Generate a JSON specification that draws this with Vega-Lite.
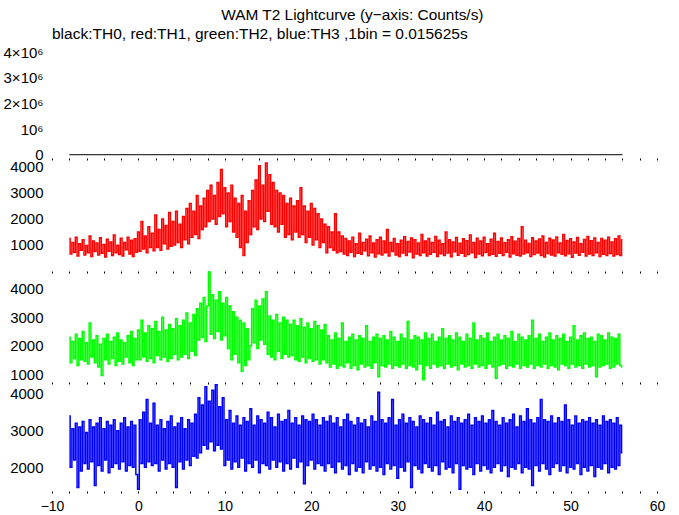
{
"$schema":"https://vega.github.io/schema/vega-lite/v6.json",
"background":"white",
"padding":{"left":0,"top":8,"right":5,"bottom":0},
"title":{"text":"WAM T2 Lightcurve (y−axis: Counts/s)","anchor":"middle","dx":20,"fontSize":15.4,"fontWeight":"normal","font":"Liberation Sans","color":"black","offset":3},
"spacing":0,
"bounds":"flush",
"datasets":{
"th0":[{"t":-8,"c":0},{"t":-4,"c":0},{"t":0,"c":0},{"t":4,"c":0},{"t":8,"c":0},{"t":12,"c":0},{"t":16,"c":0},{"t":20,"c":0},{"t":24,"c":0},{"t":28,"c":0},{"t":32,"c":0},{"t":36,"c":0},{"t":40,"c":0},{"t":44,"c":0},{"t":48,"c":0},{"t":52,"c":0},{"t":56,"c":0}],
"lc":[
{"t":-8,"r":1250,"g":2300,"b":3400},{"t":-7.8,"r":650,"g":1400,"b":2000},{"t":-7.6,"r":1100,"g":2150,"b":3050},{"t":-7.4,"r":720,"g":1550,"b":2200},{"t":-7.2,"r":1300,"g":2400,"b":3200},
{"t":-7,"r":580,"g":1300,"b":1450},{"t":-6.8,"r":1050,"g":2250,"b":3100},{"t":-6.6,"r":800,"g":1500,"b":1900},{"t":-6.4,"r":1200,"g":2500,"b":3250},{"t":-6.2,"r":620,"g":1450,"b":2100},
{"t":-6,"r":980,"g":2100,"b":2950},{"t":-5.8,"r":700,"g":1350,"b":1950},{"t":-5.6,"r":1350,"g":2800,"b":3300},{"t":-5.4,"r":560,"g":1600,"b":2150},{"t":-5.2,"r":1150,"g":2200,"b":3100},
{"t":-5,"r":750,"g":1400,"b":1500},{"t":-4.8,"r":1080,"g":2350,"b":3200},{"t":-4.6,"r":620,"g":1250,"b":2050},{"t":-4.4,"r":1280,"g":2050,"b":3350},{"t":-4.2,"r":680,"g":950,"b":1900},
{"t":-4,"r":1020,"g":2250,"b":3050},{"t":-3.8,"r":540,"g":1500,"b":2200},{"t":-3.6,"r":1220,"g":2400,"b":3250},{"t":-3.4,"r":760,"g":1350,"b":1850},{"t":-3.2,"r":1120,"g":2150,"b":3150},
{"t":-3,"r":600,"g":1550,"b":2000},{"t":-2.8,"r":1380,"g":2300,"b":3300},{"t":-2.6,"r":700,"g":1300,"b":2100},{"t":-2.4,"r":990,"g":2450,"b":3000},{"t":-2.2,"r":630,"g":1450,"b":1950},
{"t":-2,"r":1260,"g":2200,"b":3200},{"t":-1.8,"r":580,"g":1350,"b":2150},{"t":-1.6,"r":1100,"g":2100,"b":3350},{"t":-1.4,"r":820,"g":1600,"b":1900},{"t":-1.2,"r":1300,"g":2350,"b":3100},
{"t":-1,"r":650,"g":1400,"b":2050},{"t":-0.8,"r":1180,"g":2500,"b":3250},{"t":-0.6,"r":560,"g":1300,"b":2000},{"t":-0.4,"r":1240,"g":2250,"b":3150},{"t":-0.2,"r":720,"g":1500,"b":1800},
{"t":0,"r":1500,"g":2550,"b":1400},{"t":0.2,"r":760,"g":1500,"b":3300},{"t":0.4,"r":1900,"g":2900,"b":2100},{"t":0.6,"r":850,"g":1600,"b":3500},{"t":0.8,"r":1350,"g":2450,"b":2000},
{"t":1,"r":700,"g":1450,"b":3850},{"t":1.2,"r":1700,"g":2700,"b":2150},{"t":1.4,"r":900,"g":1550,"b":3200},{"t":1.6,"r":1450,"g":2600,"b":2050},{"t":1.8,"r":780,"g":1400,"b":3750},
{"t":2,"r":2150,"g":2850,"b":2100},{"t":2.2,"r":900,"g":1650,"b":3150},{"t":2.4,"r":1600,"g":2500,"b":1900},{"t":2.6,"r":800,"g":1500,"b":3300},{"t":2.8,"r":2000,"g":3000,"b":2200},
{"t":3,"r":1050,"g":1600,"b":3050},{"t":3.2,"r":1750,"g":2550,"b":1950},{"t":3.4,"r":850,"g":1450,"b":3250},{"t":3.6,"r":2250,"g":2750,"b":2100},{"t":3.8,"r":950,"g":1550,"b":3400},
{"t":4,"r":1900,"g":2600,"b":2000},{"t":4.2,"r":1000,"g":1700,"b":3100},{"t":4.4,"r":2300,"g":2950,"b":1450},{"t":4.6,"r":1100,"g":1500,"b":3200},{"t":4.8,"r":1800,"g":2700,"b":2150},
{"t":5,"r":900,"g":1600,"b":3350},{"t":5.2,"r":2100,"g":2900,"b":1950},{"t":5.4,"r":1200,"g":1700,"b":3050},{"t":5.6,"r":2400,"g":3150,"b":2200},{"t":5.8,"r":1050,"g":1550,"b":3300},
{"t":6,"r":2600,"g":2800,"b":2050},{"t":6.2,"r":1300,"g":1800,"b":3200},{"t":6.4,"r":2300,"g":3100,"b":2300},{"t":6.6,"r":1400,"g":1650,"b":3450},{"t":6.8,"r":2900,"g":3300,"b":2250},
{"t":7,"r":1250,"g":2200,"b":3900},{"t":7.2,"r":2500,"g":3500,"b":2400},{"t":7.4,"r":1600,"g":2300,"b":3700},{"t":7.6,"r":2800,"g":3700,"b":2600},{"t":7.8,"r":1700,"g":2150,"b":4200},
{"t":8,"r":3100,"g":3400,"b":2500},{"t":8.2,"r":1900,"g":4600,"b":3800},{"t":8.4,"r":3300,"g":2400,"b":2700},{"t":8.6,"r":2000,"g":3800,"b":4100},{"t":8.8,"r":2900,"g":2250,"b":2450},
{"t":9,"r":1800,"g":3600,"b":4250},{"t":9.2,"r":3400,"g":2500,"b":2600},{"t":9.4,"r":2100,"g":3900,"b":3650},{"t":9.6,"r":3900,"g":2200,"b":2500},{"t":9.8,"r":2200,"g":3500,"b":3900},
{"t":10,"r":3200,"g":2350,"b":2050},{"t":10.2,"r":1700,"g":3700,"b":3300},{"t":10.4,"r":3000,"g":1900,"b":2200},{"t":10.6,"r":1900,"g":3400,"b":3550},{"t":10.8,"r":3300,"g":1500,"b":1950},
{"t":11,"r":1500,"g":3200,"b":3200},{"t":11.2,"r":2800,"g":1700,"b":2150},{"t":11.4,"r":1300,"g":3000,"b":3400},{"t":11.6,"r":2600,"g":1400,"b":2000},{"t":11.8,"r":900,"g":2900,"b":3150},
{"t":12,"r":2900,"g":1100,"b":2250},{"t":12.2,"r":600,"g":2800,"b":3350},{"t":12.4,"r":2300,"g":1300,"b":1900},{"t":12.6,"r":1100,"g":2600,"b":3250},{"t":12.8,"r":2700,"g":1500,"b":2100},
{"t":13,"r":1400,"g":2000,"b":3600},{"t":13.2,"r":3100,"g":3300,"b":2000},{"t":13.4,"r":1700,"g":2100,"b":3150},{"t":13.6,"r":3500,"g":3600,"b":2200},{"t":13.8,"r":1600,"g":1900,"b":3400},
{"t":14,"r":4050,"g":3400,"b":1850},{"t":14.2,"r":2000,"g":2200,"b":3300},{"t":14.4,"r":3300,"g":3650,"b":2100},{"t":14.6,"r":1900,"g":2050,"b":3200},{"t":14.8,"r":4150,"g":3900,"b":2050},
{"t":15,"r":2300,"g":1700,"b":3500},{"t":15.2,"r":3700,"g":3050,"b":1950},{"t":15.4,"r":1800,"g":1600,"b":3350},{"t":15.6,"r":3400,"g":2900,"b":2200},{"t":15.8,"r":1700,"g":1500,"b":3100},
{"t":16,"r":3100,"g":3100,"b":2000},{"t":16.2,"r":1500,"g":1800,"b":3450},{"t":16.4,"r":3000,"g":2800,"b":2150},{"t":16.6,"r":1800,"g":1550,"b":3250},{"t":16.8,"r":2900,"g":3000,"b":1900},
{"t":17,"r":1300,"g":1700,"b":3300},{"t":17.2,"r":2600,"g":2900,"b":2100},{"t":17.4,"r":1400,"g":1600,"b":3550},{"t":17.6,"r":2800,"g":2750,"b":1950},{"t":17.8,"r":1200,"g":1650,"b":3200},
{"t":18,"r":2500,"g":2900,"b":2250},{"t":18.2,"r":1500,"g":1500,"b":3350},{"t":18.4,"r":2700,"g":2700,"b":2000},{"t":18.6,"r":1300,"g":1450,"b":3150},{"t":18.8,"r":3200,"g":2950,"b":2150},
{"t":19,"r":1400,"g":1600,"b":3400},{"t":19.2,"r":2500,"g":2650,"b":1550},{"t":19.4,"r":1100,"g":1400,"b":3300},{"t":19.6,"r":2300,"g":2800,"b":2050},{"t":19.8,"r":1300,"g":1550,"b":3250},
{"t":20,"r":2600,"g":2600,"b":2200},{"t":20.2,"r":1000,"g":1450,"b":3450},{"t":20.4,"r":2400,"g":2850,"b":1950},{"t":20.6,"r":1200,"g":1500,"b":3300},{"t":20.8,"r":2200,"g":2700,"b":2100},
{"t":21,"r":900,"g":1350,"b":3150},{"t":21.2,"r":2000,"g":2550,"b":2050},{"t":21.4,"r":1100,"g":1500,"b":3350},{"t":21.6,"r":1800,"g":2750,"b":1900},{"t":21.8,"r":700,"g":1400,"b":3250},
{"t":22,"r":1700,"g":2350,"b":2100},{"t":22.2,"r":900,"g":1250,"b":3400},{"t":22.4,"r":1500,"g":2200,"b":2000},{"t":22.6,"r":800,"g":1350,"b":3200},{"t":22.8,"r":2200,"g":2450,"b":1850},
{"t":23,"r":700,"g":1200,"b":3350},{"t":23.2,"r":1500,"g":2250,"b":2150},{"t":23.4,"r":750,"g":1300,"b":3100},{"t":23.6,"r":1350,"g":2800,"b":1950},{"t":23.8,"r":650,"g":1250,"b":3300},
{"t":24,"r":1250,"g":2150,"b":2050},{"t":24.2,"r":600,"g":1400,"b":3450},{"t":24.4,"r":1150,"g":2300,"b":1800},{"t":24.6,"r":720,"g":1200,"b":3250},{"t":24.8,"r":1300,"g":2400,"b":2100},
{"t":25,"r":560,"g":1300,"b":3150},{"t":25.2,"r":1050,"g":2200,"b":1900},{"t":25.4,"r":680,"g":1150,"b":3350},{"t":25.6,"r":1450,"g":2350,"b":2000},{"t":25.8,"r":640,"g":1350,"b":3200},
{"t":26,"r":1100,"g":2250,"b":1850},{"t":26.2,"r":780,"g":1250,"b":3300},{"t":26.4,"r":1220,"g":2700,"b":2150},{"t":26.6,"r":590,"g":1300,"b":3100},{"t":26.8,"r":1350,"g":2150,"b":1950},
{"t":27,"r":700,"g":1200,"b":3400},{"t":27.2,"r":1080,"g":2300,"b":2050},{"t":27.4,"r":540,"g":1400,"b":3250},{"t":27.6,"r":1200,"g":2400,"b":1900},{"t":27.8,"r":660,"g":900,"b":4050},
{"t":28,"r":1300,"g":2250,"b":2000},{"t":28.2,"r":620,"g":1300,"b":3300},{"t":28.4,"r":1150,"g":2350,"b":1800},{"t":28.6,"r":700,"g":1250,"b":3200},{"t":28.8,"r":1600,"g":2200,"b":2100},
{"t":29,"r":580,"g":1350,"b":3350},{"t":29.2,"r":1100,"g":2500,"b":1950},{"t":29.4,"r":750,"g":1200,"b":3850},{"t":29.6,"r":1250,"g":2300,"b":2050},{"t":29.8,"r":620,"g":1300,"b":3150},
{"t":30,"r":1050,"g":2150,"b":1700},{"t":30.2,"r":560,"g":1250,"b":3300},{"t":30.4,"r":1180,"g":2400,"b":2000},{"t":30.6,"r":690,"g":1350,"b":3450},{"t":30.8,"r":1320,"g":2250,"b":1900},
{"t":31,"r":600,"g":1200,"b":3200},{"t":31.2,"r":1130,"g":2850,"b":2150},{"t":31.4,"r":730,"g":1300,"b":3350},{"t":31.6,"r":1270,"g":2200,"b":1450},{"t":31.8,"r":510,"g":1250,"b":3250},
{"t":32,"r":1200,"g":2350,"b":2050},{"t":32.2,"r":650,"g":1150,"b":3100},{"t":32.4,"r":1080,"g":2300,"b":1950},{"t":32.6,"r":600,"g":1350,"b":3400},{"t":32.8,"r":1400,"g":2200,"b":1850},
{"t":33,"r":700,"g":800,"b":3300},{"t":33.2,"r":1150,"g":2450,"b":2100},{"t":33.4,"r":580,"g":1300,"b":3200},{"t":33.6,"r":1250,"g":2250,"b":2000},{"t":33.8,"r":640,"g":1200,"b":3350},
{"t":34,"r":1100,"g":2400,"b":1900},{"t":34.2,"r":720,"g":1350,"b":3150},{"t":34.4,"r":1330,"g":2150,"b":2050},{"t":34.6,"r":560,"g":1250,"b":3500},{"t":34.8,"r":1180,"g":2300,"b":1800},
{"t":35,"r":660,"g":1300,"b":3250},{"t":35.2,"r":1050,"g":2600,"b":2150},{"t":35.4,"r":600,"g":1200,"b":3300},{"t":35.6,"r":1500,"g":2250,"b":1950},{"t":35.8,"r":690,"g":1350,"b":3100},
{"t":36,"r":1200,"g":2350,"b":2000},{"t":36.2,"r":550,"g":1250,"b":3400},{"t":36.4,"r":1120,"g":2200,"b":1850},{"t":36.6,"r":740,"g":1300,"b":3250},{"t":36.8,"r":1290,"g":2450,"b":2100},
{"t":37,"r":610,"g":1150,"b":3350},{"t":37.2,"r":1070,"g":2300,"b":1400},{"t":37.4,"r":680,"g":1350,"b":3200},{"t":37.6,"r":1240,"g":2150,"b":2050},{"t":37.8,"r":570,"g":1250,"b":3300},
{"t":38,"r":1160,"g":2400,"b":1950},{"t":38.2,"r":630,"g":1300,"b":3450},{"t":38.4,"r":1380,"g":2250,"b":2000},{"t":38.6,"r":700,"g":1200,"b":3150},{"t":38.8,"r":1100,"g":2800,"b":1800},
{"t":39,"r":520,"g":1350,"b":3350},{"t":39.2,"r":1260,"g":2200,"b":2100},{"t":39.4,"r":650,"g":1250,"b":3250},{"t":39.6,"r":1150,"g":2350,"b":1900},{"t":39.8,"r":590,"g":1300,"b":3400},
{"t":40,"r":1300,"g":2250,"b":2050},{"t":40.2,"r":710,"g":1200,"b":3200},{"t":40.4,"r":1050,"g":2450,"b":1950},{"t":40.6,"r":600,"g":1350,"b":3300},{"t":40.8,"r":1220,"g":2150,"b":1850},
{"t":41,"r":640,"g":1250,"b":3550},{"t":41.2,"r":1450,"g":2300,"b":2000},{"t":41.4,"r":570,"g":850,"b":3250},{"t":41.6,"r":1130,"g":2400,"b":2100},{"t":41.8,"r":680,"g":1300,"b":3150},
{"t":42,"r":1270,"g":2200,"b":1900},{"t":42.2,"r":600,"g":1350,"b":3350},{"t":42.4,"r":1090,"g":2350,"b":2050},{"t":42.6,"r":720,"g":1200,"b":3200},{"t":42.8,"r":1200,"g":2250,"b":1750},
{"t":43,"r":540,"g":1300,"b":3300},{"t":43.2,"r":1320,"g":2500,"b":2000},{"t":43.4,"r":660,"g":1250,"b":3450},{"t":43.6,"r":1140,"g":2150,"b":1950},{"t":43.8,"r":610,"g":1350,"b":3100},
{"t":44,"r":1250,"g":2400,"b":2100},{"t":44.2,"r":580,"g":1200,"b":3400},{"t":44.4,"r":1700,"g":2300,"b":1850},{"t":44.6,"r":650,"g":1300,"b":3250},{"t":44.8,"r":1180,"g":2200,"b":2000},
{"t":45,"r":700,"g":1250,"b":3600},{"t":45.2,"r":1060,"g":2350,"b":1950},{"t":45.4,"r":560,"g":1350,"b":3300},{"t":45.6,"r":1280,"g":2900,"b":1500},{"t":45.8,"r":630,"g":1200,"b":3200},
{"t":46,"r":1150,"g":2250,"b":2050},{"t":46.2,"r":690,"g":1300,"b":3350},{"t":46.4,"r":1230,"g":2400,"b":1900},{"t":46.6,"r":600,"g":1250,"b":3850},{"t":46.8,"r":1350,"g":2150,"b":2100},
{"t":47,"r":540,"g":1350,"b":3300},{"t":47.2,"r":1100,"g":2300,"b":1950},{"t":47.4,"r":670,"g":1200,"b":3250},{"t":47.6,"r":1260,"g":2450,"b":1800},{"t":47.8,"r":620,"g":1300,"b":3400},
{"t":48,"r":1190,"g":2200,"b":2000},{"t":48.2,"r":580,"g":1250,"b":3200},{"t":48.4,"r":1310,"g":2350,"b":2100},{"t":48.6,"r":700,"g":1150,"b":3350},{"t":48.8,"r":1080,"g":2250,"b":1900},
{"t":49,"r":640,"g":1350,"b":3250},{"t":49.2,"r":1400,"g":2400,"b":2050},{"t":49.4,"r":590,"g":1300,"b":3700},{"t":49.6,"r":1170,"g":2150,"b":1850},{"t":49.8,"r":660,"g":1200,"b":3300},
{"t":50,"r":1240,"g":2300,"b":2000},{"t":50.2,"r":530,"g":1350,"b":3150},{"t":50.4,"r":1120,"g":2700,"b":1950},{"t":50.6,"r":690,"g":1250,"b":3400},{"t":50.8,"r":1290,"g":2200,"b":2100},
{"t":51,"r":610,"g":1300,"b":3200},{"t":51.2,"r":1050,"g":2350,"b":1800},{"t":51.4,"r":720,"g":1200,"b":3300},{"t":51.6,"r":1210,"g":2450,"b":2000},{"t":51.8,"r":580,"g":1350,"b":3250},
{"t":52,"r":1330,"g":2250,"b":1900},{"t":52.2,"r":650,"g":1250,"b":3350},{"t":52.4,"r":1160,"g":2300,"b":2050},{"t":52.6,"r":600,"g":1300,"b":3200},{"t":52.8,"r":1270,"g":2150,"b":1750},
{"t":53,"r":700,"g":900,"b":3300},{"t":53.2,"r":1100,"g":2400,"b":2000},{"t":53.4,"r":560,"g":1250,"b":3150},{"t":53.6,"r":1250,"g":2350,"b":1950},{"t":53.8,"r":640,"g":1300,"b":3400},
{"t":54,"r":1180,"g":2200,"b":2100},{"t":54.2,"r":600,"g":1350,"b":3250},{"t":54.4,"r":1300,"g":2450,"b":1850},{"t":54.6,"r":670,"g":1200,"b":3300},{"t":54.8,"r":1120,"g":2300,"b":2000},
{"t":55,"r":580,"g":1250,"b":3200},{"t":55.2,"r":1240,"g":2250,"b":1950},{"t":55.4,"r":630,"g":1350,"b":3350},{"t":55.6,"r":1350,"g":2400,"b":2050},{"t":55.8,"r":600,"g":1300,"b":3150},
{"t":56,"r":1200,"g":1250,"b":2400}
]},
"vconcat":[
{"width":605,"height":111,
 "title":{"text":"black:TH0, red:TH1, green:TH2, blue:TH3 ,1bin = 0.015625s","anchor":"start","frame":"group","fontSize":15.5,"fontWeight":"normal","font":"Liberation Sans","color":"black","offset":3},
 "data":{"name":"th0"},
 "mark":{"type":"line","color":"black","strokeWidth":1},
 "encoding":{
  "x":{"field":"t","type":"quantitative","title":null,"scale":{"domain":[-10,60],"nice":false,"zero":false},
       "axis":{"labels":false,"tickSize":2,"values":[-10,-8,-6,-4,-2,0,2,4,6,8,10,12,14,16,18,20,22,24,26,28,30,32,34,36,38,40,42,44,46,48,50,52,54,56,58,60]}},
  "y":{"field":"c","type":"quantitative","title":null,"scale":{"domain":[-128000,4195000],"nice":false,"zero":false},
       "axis":{"values":[0,1000000,2000000,3000000,4000000],"labelExpr":"datum.value === 0 ? '0' : (datum.value === 1000000 ? '10⁶' : format(datum.value/1000000,'d') + '×10⁶')"}}
 }},
{"width":605,"height":113,
 "data":{"name":"lc"},
 "mark":{"type":"line","color":"#ff0000","strokeWidth":1.5,"interpolate":"step"},
 "encoding":{
  "x":{"field":"t","type":"quantitative","title":null,"scale":{"domain":[-10,60],"nice":false,"zero":false},
       "axis":{"labels":false,"tickSize":2,"values":[-10,-8,-6,-4,-2,0,2,4,6,8,10,12,14,16,18,20,22,24,26,28,30,32,34,36,38,40,42,44,46,48,50,52,54,56,58,60]}},
  "y":{"field":"r","type":"quantitative","title":null,"scale":{"domain":[0,4346],"nice":false,"zero":false},
       "axis":{"values":[1000,2000,3000,4000],"format":"d"}}
 }},
{"width":605,"height":111,
 "data":{"name":"lc"},
 "mark":{"type":"line","color":"#00ff00","strokeWidth":1.5,"interpolate":"step"},
 "encoding":{
  "x":{"field":"t","type":"quantitative","title":null,"scale":{"domain":[-10,60],"nice":false,"zero":false},
       "axis":{"labels":false,"tickSize":2,"values":[-10,-8,-6,-4,-2,0,2,4,6,8,10,12,14,16,18,20,22,24,26,28,30,32,34,36,38,40,42,44,46,48,50,52,54,56,58,60]}},
  "y":{"field":"g","type":"quantitative","title":null,"scale":{"domain":[718,4635],"nice":false,"zero":false},
       "axis":{"values":[1000,2000,3000,4000],"format":"d"}}
 }},
{"width":605,"height":109,
 "data":{"name":"lc"},
 "mark":{"type":"line","color":"#0000ff","strokeWidth":1.5,"interpolate":"step"},
 "encoding":{
  "x":{"field":"t","type":"quantitative","title":null,"scale":{"domain":[-10,60],"nice":false,"zero":false},
       "axis":{"tickSize":2,"labelPadding":6,"labelFontSize":14,"labelFlush":false,"values":[-10,-8,-6,-4,-2,0,2,4,6,8,10,12,14,16,18,20,22,24,26,28,30,32,34,36,38,40,42,44,46,48,50,52,54,56,58,60],"labelExpr":"datum.value % 10 === 0 ? datum.label : ''"}},
  "y":{"field":"b","type":"quantitative","title":null,"scale":{"domain":[1353,4327],"nice":false,"zero":false},
       "axis":{"values":[2000,3000,4000],"format":"d"}}
 }}
],
"config":{
 "font":"Liberation Sans",
 "view":{"stroke":null},
 "axis":{"grid":false,"domain":false,"labelFont":"Liberation Sans","labelFontSize":15,"labelColor":"black","tickColor":"black","tickWidth":1,"labelOverlap":false},
 "axisY":{"ticks":false,"labelPadding":9,"minExtent":52,"maxExtent":52}
}
}
